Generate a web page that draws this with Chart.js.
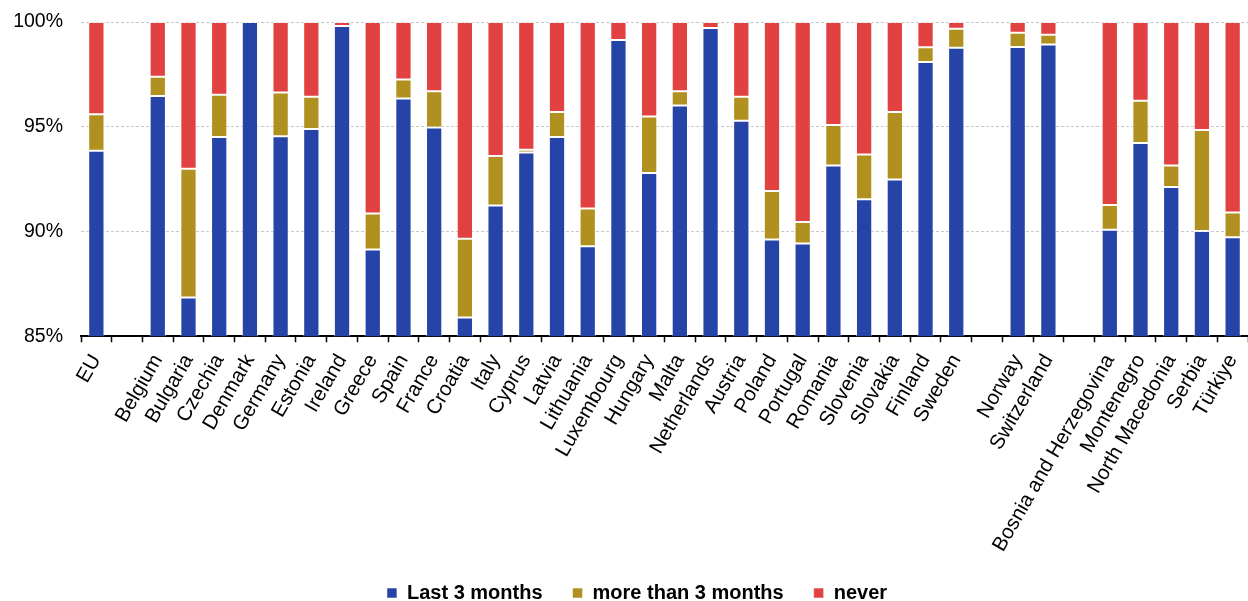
<!DOCTYPE html>
<html>
<head>
<meta charset="utf-8">
<script src="https://cdn.jsdelivr.net/npm/chart.js@4.4.1/dist/chart.umd.min.js"></script>
<style>
    html, body { margin: 0; padding: 0; background: #fff; }
    #wrap { position: relative; width: 1248px; height: 601px; }
</style>
</head>
<body>
<div id="wrap"><canvas id="chart"></canvas></div>
<script>
// Categories ('' = spacer slot between country groups)
const categories = [
    'EU', '',
    'Belgium', 'Bulgaria', 'Czechia', 'Denmark', 'Germany', 'Estonia', 'Ireland', 'Greece', 'Spain',
    'France', 'Croatia', 'Italy', 'Cyprus', 'Latvia', 'Lithuania', 'Luxembourg', 'Hungary', 'Malta',
    'Netherlands', 'Austria', 'Poland', 'Portugal', 'Romania', 'Slovenia', 'Slovakia', 'Finland', 'Sweden',
    '',
    'Norway', 'Switzerland',
    '',
    'Bosnia and Herzegovina', 'Montenegro', 'North Macedonia', 'Serbia', 'Türkiye'
];

const last3Months = [
    93.85, null,
    96.47, 86.85, 94.51, 100, 94.55, 94.89, 99.81, 89.14, 96.35,
    94.97, 85.89, 91.24, 93.77, 94.51, 89.30, 99.14, 92.79, 96.02,
    99.71, 95.29, 89.62, 89.43, 93.15, 91.54, 92.48, 98.09, 98.77,
    null,
    98.81, 98.93,
    null,
    90.08, 94.22, 92.12, 90.03, 89.73
];

const moreThan3Months = [
    1.75, null,
    0.92, 6.15, 2.02, 0, 2.09, 1.54, 0, 1.72, 0.91,
    1.72, 3.76, 2.36, 0.13, 1.19, 1.80, 0, 2.70, 0.67,
    0, 1.14, 2.31, 1.02, 1.93, 2.14, 3.22, 0.70, 0.91,
    null,
    0.68, 0.46,
    null,
    1.19, 2.02, 1.03, 4.81, 1.18
];

const never = [
    4.40, null,
    2.61, 7.00, 3.47, 0, 3.36, 3.57, 0.19, 9.14, 2.74,
    3.31, 10.35, 6.40, 6.10, 4.30, 8.90, 0.86, 4.51, 3.31,
    0.29, 3.57, 8.07, 9.55, 4.92, 6.32, 4.30, 1.21, 0.32,
    null,
    0.51, 0.61,
    null,
    8.73, 3.76, 6.85, 5.16, 9.09
];

const yTicks = [85, 90, 95, 100];

const FONT = '"Liberation Sans", Arial, sans-serif';

// nudge the legend a little to the right, like the original
const legendShift = {
    id: 'legendShift',
    afterLayout(c) {
        c.legend.left += 13;
        c.legend.right += 13;
    }
};

const chart = new Chart('chart', {
    type: 'bar',
    data: {
        labels: categories,
        datasets: [
            { label: 'Last 3 months', data: last3Months, backgroundColor: '#2644A7' },
            { label: 'more than 3 months', data: moreThan3Months, backgroundColor: '#B0901F' },
            { label: 'never', data: never, backgroundColor: '#E14141' }
        ]
    },
    options: {
        responsive: true,
        maintainAspectRatio: false,
        animation: false,
        layout: { padding: { top: 22, right: 0, bottom: -12, left: 0 } },
        datasets: {
            bar: {
                categoryPercentage: 1,
                barPercentage: 0.53,
                borderWidth: 1,
                borderColor: 'rgba(255,255,255,0.55)',
                borderSkipped: false
            }
        },
        scales: {
            x: {
                stacked: true,
                afterFit: (scale) => {
                    scale.paddingLeft = 0;
                    scale.paddingRight = 0;
                    scale.height -= 11;
                },
                border: { color: '#000', width: 2 },
                grid: {
                    offset: true,
                    drawOnChartArea: false,
                    drawTicks: true,
                    tickLength: 6,
                    tickWidth: 1.5,
                    tickColor: '#000'
                },
                ticks: {
                    autoSkip: false,
                    minRotation: 60,
                    maxRotation: 60,
                    padding: 8,
                    color: '#000',
                    font: { family: FONT, size: 20.5 }
                }
            },
            y: {
                stacked: true,
                min: 85,
                max: 100,
                afterFit: (scale) => {
                    scale.width = 81;
                    scale.paddingTop = 0;
                    scale.paddingBottom = 0;
                },
                afterBuildTicks: (scale) => { scale.ticks = yTicks.map(v => ({ value: v })); },
                border: { display: false, dash: [3, 2] },
                grid: {
                    drawTicks: false,
                    color: '#c8c8c8',
                    lineWidth: 1
                },
                ticks: {
                    padding: 18,
                    color: '#000',
                    font: { family: FONT, size: 19.5 },
                    callback: (v) => v + '%'
                }
            }
        },
        plugins: {
            legend: {
                position: 'bottom',
                labels: {
                    boxWidth: 10,
                    boxHeight: 10,
                    padding: 30,
                    color: '#000',
                    font: { family: FONT, size: 20, weight: 'bold' }
                }
            },
            tooltip: { enabled: false }
        }
    },
    plugins: [legendShift]
});
</script>
</body>
</html>
